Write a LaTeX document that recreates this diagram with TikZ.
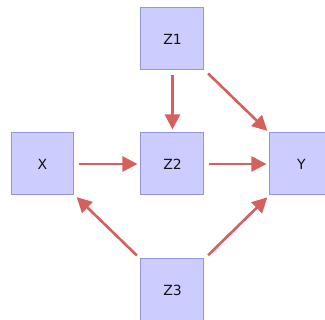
\documentclass[tikz,border=0pt]{standalone}
\usepackage{fontspec}
\setmainfont{DejaVu Sans}
\usetikzlibrary{arrows.meta}
\definecolor{BoxFill}{HTML}{CCCCFF}
\definecolor{BoxEdge}{HTML}{9494DC}
\definecolor{EdgeRed}{HTML}{D6605E}
\definecolor{LabelInk}{HTML}{141414}
\tikzset{
  every node/.style={font=\fontsize{14}{16}\selectfont, text=LabelInk},
  var/.style={draw=BoxEdge, line width=1pt, fill=BoxFill, minimum width=63pt, minimum height=62pt, inner sep=0pt},
  effect/.style={-{Triangle[length=15pt,width=15pt]}, draw=EdgeRed, line width=2.6pt, shorten <=5pt, shorten >=3pt},
}
\begin{document}
\begin{tikzpicture}[x=1pt,y=1pt]
  \useasboundingbox (0,0) rectangle (325,320);
  \begin{scope}
  \clip (0,0) rectangle (325,320);
  % Variables
  \node[var] (z1) at (172.5,281) {Z1};
  \node[var] (x)  at (42.5,156) {X};
  \node[var] (z2) at (172.5,156) {Z2};
  \node[var] (y)  at (301.5,156) {Y};
  \node[var] (z3) at (172.5,30) {Z3};
  % Causal edges
  \draw[effect] (z1) -- (z2);
  \draw[effect] (z1) -- (y);
  \draw[effect] (x) -- (z2);
  \draw[effect] (z2) -- (y);
  \draw[effect] (z3) -- (x);
  \draw[effect] (z3) -- (y);
  \end{scope}
\end{tikzpicture}
\end{document}
